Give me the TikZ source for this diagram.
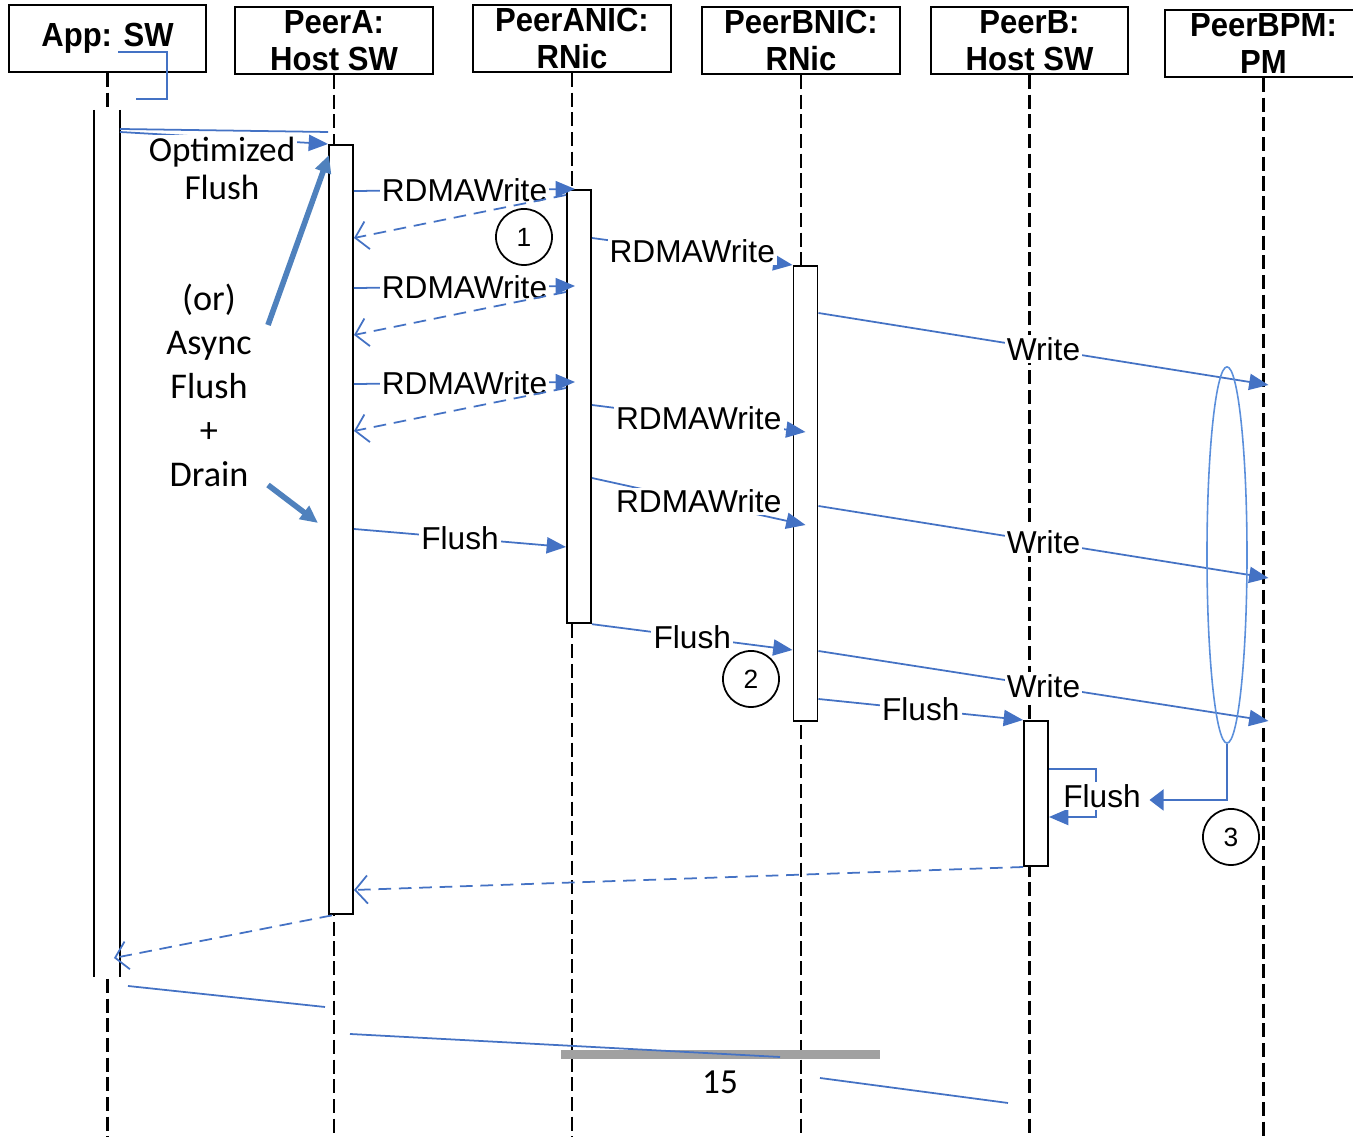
\documentclass[tikz,border=0pt]{standalone}
\usepackage{fontspec}
\setmainfont{Liberation Sans}
\newfontfamily\hdrfont[FakeStretch=0.93]{Liberation Sans}
\newfontfamily\calfont{Carlito}
\usetikzlibrary{positioning, arrows.meta, calc, shapes.geometric}
\definecolor{msgblue}{HTML}{4472C4}
\definecolor{fatblue}{HTML}{4F81BD}
\definecolor{ringblue}{HTML}{5B8FDB}
\tikzset{
  hdr/.style={draw, line width=0.55pt, minimum width=1.97cm, minimum height=0.67cm, inner sep=0pt, align=center,
    font=\hdrfont\bfseries\fontsize{9.5}{10.5}\selectfont},
  lifeline/.style={line width=0.6pt, dash pattern=on 4pt off 1.6pt},
  actbar/.style={draw, fill=white, line width=0.55pt, minimum width=0.24cm, inner sep=0pt, anchor=north},
  wire/.style={msgblue, line width=0.5pt},
  msg/.style={wire, -{Triangle[length=5.5pt,width=4.6pt]}},
  reply/.style={wire, dash pattern=on 3.6pt off 2.2pt, -{Straight Barb[length=3.5pt,width=8pt]}},
  lbl/.style={fill=white, inner sep=0.6pt, text=black, font=\fontsize{9}{10}\selectfont},
  numcirc/.style={draw, circle, line width=0.5pt, minimum size=0.56cm, inner sep=0pt, font=\fontsize{7.5}{9}\selectfont},
  fatarrow/.style={fatblue, line width=1.6pt, -{Triangle[length=5pt,width=4.5pt]}},
  caltxt/.style={align=center, font=\calfont\fontsize{10.3}{12.5}\selectfont}
}

\begin{document}
\begin{tikzpicture}[x=0.01cm, y=-0.01cm]
  \useasboundingbox (0,0) rectangle (1353,1137);

  \node[hdr] (hApp) at (107.5,38.5) {App: SW};
  \node[hdr] (hPeerA) at (334,40.5) {PeerA:\\Host SW};
  \node[hdr] (hANIC) at (572,38.5) {PeerANIC:\\RNic};
  \node[hdr] (hBNIC) at (801,40.5) {PeerBNIC:\\RNic};
  \node[hdr] (hPeerB) at (1029.5,40.5) {PeerB:\\Host SW};
  \node[hdr] (hPM) at (1263.5,43.5) {PeerBPM:\\PM};
  \foreach \h in {hApp,hPeerA,hANIC,hBNIC,hPeerB,hPM}
    \draw[lifeline] (\h.south) -- (\h.south |- 0,1137);

  \draw[wire] (118,52) -- (167,52) -- (167,99) -- (136,99);

  \node[actbar, draw=none, minimum height=8.65cm] (actApp) at (107,110) {};
  \draw[line width=0.55pt] (actApp.north west) -- (actApp.south west) (actApp.north east) -- (actApp.south east);
  \node[actbar, minimum height=7.69cm] (actA) at (341,144) {};
  \node[actbar, minimum height=4.33cm] (actANIC) at (579,189) {};
  \node[actbar, minimum height=4.55cm] (actBNIC) at (805.5,265) {};
  \node[actbar, minimum height=1.45cm] (actB) at (1036,720) {};

  \draw[wire] (actApp.east |- 0,129) -- (actA.west |- 0,132);
  \draw[msg] (actApp.east |- 0,132) -- (actA.north west);
  \node[caltxt, fill=white, inner sep=0.5pt, font=\calfont\fontsize{10}{10.8}\selectfont] (optTxt) at (222,168) {Optimized\\Flush};
  \node[caltxt] (asyncTxt) at (209,385) {(or)\\Async\\Flush\\+\\Drain};
  \draw[fatarrow] (268,325) -- ($(actA.north west)+(1,11)$);
  \draw[fatarrow] (268,485) -- (318,523);

  \foreach \y in {191,288,384}
    \draw[msg] (actA.east |- 0,\y) -- ($(actANIC.west |- 0,\y)+(9,-2)$) node[lbl, midway] {RDMAWrite};
  \foreach \y in {195,292,388}
    \draw[reply] (actANIC.west |- 0,\y) -- (actA.east |- 0,\y+43);
  \draw[msg] (actA.east |- 0,529) -- (actANIC.west |- 0,547) node[lbl, midway] {Flush};

  \draw[msg] (actANIC.east |- 0,238) -- (actBNIC.north west) node[lbl, midway] {RDMAWrite};
  \draw[msg] (actANIC.east |- 0,405) -- ($(actBNIC.west |- 0,432)+(13,0)$) node[lbl, midway] {RDMAWrite};
  \draw[msg] (actANIC.east |- 0,478) -- ($(actBNIC.west |- 0,525)+(13,0)$) node[lbl, midway] {RDMAWrite};
  \draw[msg] (actANIC.south east) -- (actBNIC.west |- 0,650) node[lbl, midway] {Flush};

  \draw[msg] (actBNIC.east |- 0,313) -- ($(hPM.south |- 0,385)+(5,0)$) node[lbl, midway] {Write};
  \draw[msg] (actBNIC.east |- 0,506) -- ($(hPM.south |- 0,578)+(5,0)$) node[lbl, midway] {Write};
  \draw[msg] (actBNIC.east |- 0,651) -- ($(hPM.south |- 0,721)+(5,0)$) node[lbl, midway] {Write};
  \draw[msg] (actBNIC.east |- 0,699) -- (actB.north west) node[lbl, midway] {Flush};

  \draw[msg] (actB.east |- 0,769) -- (1096,769) -- (1096,817) -- (actB.east |- 0,817);
  \node[lbl] (bFlush) at (1102,796) {Flush};
  \node[draw=ringblue, line width=0.45pt, ellipse, minimum width=0.4cm, minimum height=3.76cm] (grp) at (1227,555) {};
  \draw[wire, -{Triangle[length=4pt,width=6pt]}] (grp.south) |- ($(bFlush.east)+(6,4)$);

  \draw[reply] (actB.south west) -- (actA.east |- 0,890);
  \draw[reply] ($(actA.south west)+(4,0)$) -- ($(actApp.east |- 0,958)+(-6,0)$);

  \node[numcirc] (n1) at (524,237) {1};
  \node[numcirc] (n2) at (751,679) {2};
  \node[numcirc] (n3) at (1231,837) {3};

  \fill[black!37] (561,1050) rectangle (880,1059);
  \draw[wire] (128,986) -- (325,1007);
  \draw[wire] (350,1034) -- (780,1057);
  \draw[wire] (820,1078) -- (1008,1103);
  \node[font=\calfont\fontsize{10}{11}\selectfont] (pgNo) at (720,1082) {15};
\end{tikzpicture}
\end{document}
